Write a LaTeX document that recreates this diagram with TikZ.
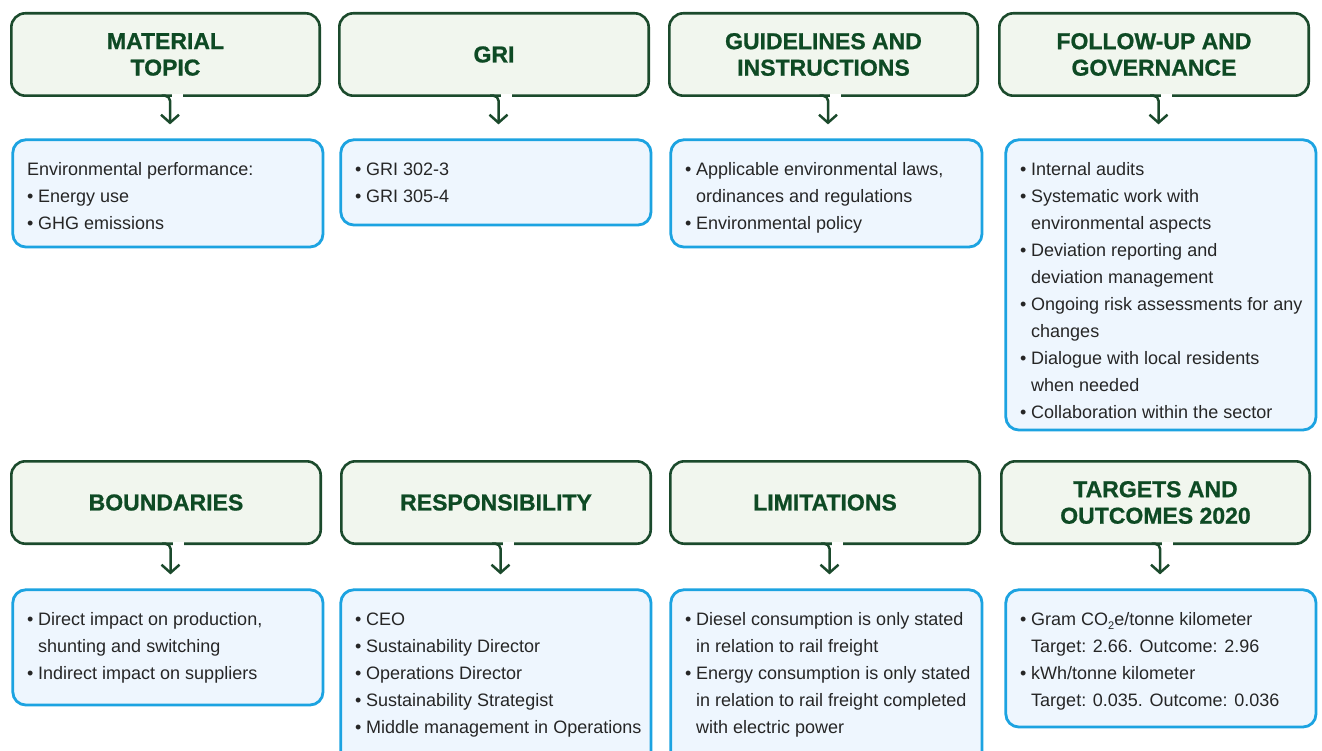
\documentclass[tikz,border=0pt]{standalone}
\usepackage{fontspec}
\setmainfont{Liberation Sans}
\newfontfamily\headfont{Liberation Sans Bold}[FakeBold=0.9]
\usetikzlibrary{arrows.meta}

\definecolor{hdline}{HTML}{1B4A2C}
\definecolor{hdfill}{HTML}{F1F6EE}
\definecolor{hdtext}{HTML}{0E4A24}
\definecolor{bxline}{HTML}{1CA3E1}
\definecolor{bxfill}{HTML}{EEF6FE}
\definecolor{bxtext}{HTML}{262626}

% bullet and hanging indent for list lines
\newcommand\bl{\makebox[11pt][l]{•}}
\newcommand\hang{\hspace*{11pt}}
\newcommand\subtwo{\raisebox{-3.5pt}{\fontsize{11}{11}\selectfont 2}}

\tikzset{
  head/.style={draw=hdline, fill=hdfill, line width=2.6pt, rounded corners=14pt,
    outer sep=0pt, anchor=north west, inner sep=0pt, align=center, text=hdtext,
    font=\headfont\fontsize{23}{26.5}\selectfont, minimum height=82.4pt},
  infobox/.style={draw=bxline, fill=bxfill, line width=2.8pt, rounded corners=13pt,
    anchor=north west, inner sep=0pt},
  bodytext/.style={anchor=north west, inner sep=0pt, align=left, text=bxtext,
    font=\fontsize{18}{27}\selectfont},
  link/.style={draw=hdline, line width=2.5pt, rounded corners=5pt,
    -{Straight Barb[length=8pt,width=18pt]}, shorten >=14pt},
  gap/.style={fill=white},
}

\begin{document}
\begin{tikzpicture}[x=1pt,y=-1pt]
\fill[white] (0,0) rectangle (1322,751);
\clip (0,0) rectangle (1322,751);

% header boxes, upper row
\node[head, minimum width=308.4pt] (h1) at (11.3,13.3) {MATERIAL\\TOPIC};
\node[head, minimum width=309.4pt] (h2) at (339.3,13.3) {GRI};
\node[head, minimum width=308.4pt] (h3) at (669.3,13.3) {GUIDELINES AND\\INSTRUCTIONS};
\node[head, minimum width=309.4pt] (h4) at (999.3,13.3) {FOLLOW-UP AND\\GOVERNANCE};
% header boxes, lower row
\node[head, minimum width=309.4pt] (h5) at (11.3,461.3) {BOUNDARIES};
\node[head, minimum width=309.4pt] (h6) at (341.3,461.3) {RESPONSIBILITY};
\node[head, minimum width=309.4pt] (h7) at (670.3,461.3) {LIMITATIONS};
\node[head, minimum width=308.4pt] (h8) at (1001.3,461.3) {TARGETS AND\\OUTCOMES 2020};

% content boxes, upper row
\node[infobox, minimum width=310.2pt, minimum height=107.2pt] (b1) at (11.4,138.4) {};
\node[infobox, minimum width=310.2pt, minimum height=85.2pt]  (b2) at (339.4,138.4) {};
\node[infobox, minimum width=311.2pt, minimum height=107.2pt] (b3) at (669.4,138.4) {};
\node[infobox, minimum width=310.2pt, minimum height=290.2pt] (b4) at (1004.4,138.4) {};
% content boxes, lower row
\node[infobox, minimum width=310.2pt, minimum height=115.2pt] (b5) at (11.4,588.4) {};
\node[infobox, minimum width=310.2pt, minimum height=177.2pt] (b6) at (339.4,588.4) {};
\node[infobox, minimum width=311.2pt, minimum height=177.2pt] (b7) at (669.4,588.4) {};
\node[infobox, minimum width=310.2pt, minimum height=137.2pt] (b8) at (1004.4,588.4) {};

% connectors: the header outline bends down into the arrow stem
\foreach \h/\b in {h1/b1,h2/b2,h3/b3,h4/b4,h5/b5,h6/b6,h7/b7,h8/b8}{
  \fill[gap] ([xshift=6.5pt,yshift=2pt]\h.south) rectangle ([xshift=17.5pt,yshift=-2pt]\h.south);
  \draw[link] ([xshift=-4pt]\h.south) -| ([xshift=4.5pt]\h.south |- \b.north);
}

% list texts
\node[bodytext] (t1) at (27,162.3) {Environmental performance:\\\bl Energy use\\\bl GHG emissions};
\node[bodytext] (t2) at (355,162.3) {\bl GRI 302-3\\\bl GRI 305-4};
\node[bodytext] (t3) at (685,162.3) {\bl Applicable environmental laws,\\\hang ordinances and regulations\\\bl Environmental policy};
\node[bodytext] (t4) at (1020,162.3) {\bl Internal audits\\\bl Systematic work with\\\hang environmental aspects\\\bl Deviation reporting and\\\hang deviation management\\\bl Ongoing risk assessments for any\\\hang changes\\\bl Dialogue with local residents\\\hang when needed\\\bl Collaboration within the sector};
\node[bodytext] (t5) at (27,612.3) {\bl Direct impact on production,\\\hang shunting and switching\\\bl Indirect impact on suppliers};
\node[bodytext] (t6) at (355,612.3) {\bl CEO\\\bl Sustainability Director\\\bl Operations Director\\\bl Sustainability Strategist\\\bl Middle management in Operations};
\node[bodytext] (t7) at (685,612.3) {\bl Diesel consumption is only stated\\\hang in relation to rail freight\\\bl Energy consumption is only stated\\\hang in relation to rail freight completed\\\hang with electric power};
\node[bodytext] (t8) at (1020,612.3) {\bl Gram CO\subtwo e/tonne kilometer\\\hang Target: 2.66. Outcome: 2.96\\\bl kWh/tonne kilometer\\\hang Target: 0.035. Outcome: 0.036};
\end{tikzpicture}
\end{document}
